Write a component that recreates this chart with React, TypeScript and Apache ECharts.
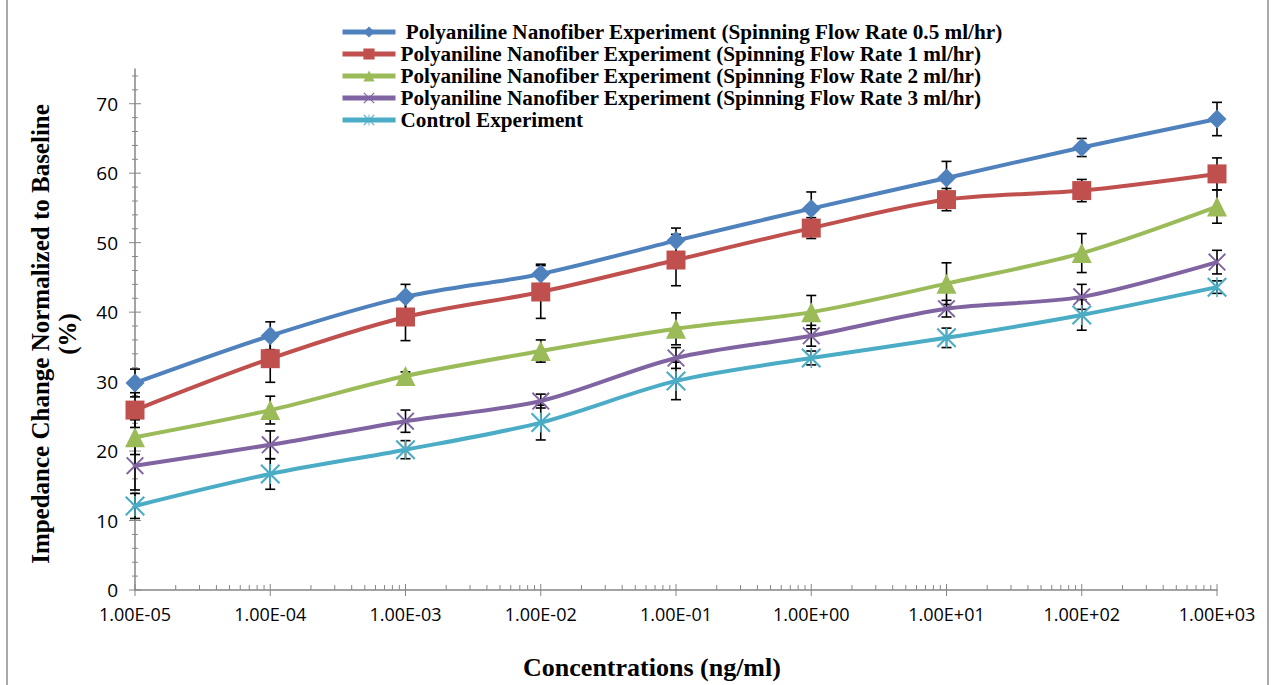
import React, { useEffect, useRef } from 'react';
import * as echarts from 'echarts';

const concentrations = [1e-5, 1e-4, 1e-3, 1e-2, 1e-1, 1e0, 1e1, 1e2, 1e3];
const xTickLabels = ['1.00E-05', '1.00E-04', '1.00E-03', '1.00E-02', '1.00E-01', '1.00E+00', '1.00E+01', '1.00E+02', '1.00E+03'];
const yMajorTicks = [0, 10, 20, 30, 40, 50, 60, 70];

const seriesNames = [
  ' Polyaniline Nanofiber Experiment (Spinning Flow Rate 0.5 ml/hr)',
  'Polyaniline Nanofiber Experiment (Spinning Flow Rate 1 ml/hr)',
  'Polyaniline Nanofiber Experiment (Spinning Flow Rate 2 ml/hr)',
  'Polyaniline Nanofiber Experiment (Spinning Flow Rate 3 ml/hr)',
  'Control Experiment',
];
const colors = ['#4F81BD', '#C0504D', '#9BBB59', '#8064A2', '#4BACC6'];

const rate05 = [29.8, 36.6, 42.2, 45.5, 50.3, 54.9, 59.3, 63.7, 67.8];
const rate1 = [25.9, 33.3, 39.3, 42.9, 47.5, 52.1, 56.2, 57.5, 59.9];
const rate2 = [22.0, 25.9, 30.8, 34.4, 37.6, 40.0, 44.1, 48.5, 55.2];
const rate3 = [17.9, 20.9, 24.3, 27.2, 33.4, 36.6, 40.5, 42.2, 47.2];
const control = [12.1, 16.7, 20.2, 24.1, 30.1, 33.4, 36.3, 39.6, 43.6];

const err05 = [2.0, 2.0, 1.8, 1.4, 1.8, 2.4, 2.4, 1.3, 2.4];
const err1 = [2.5, 3.4, 3.4, 3.8, 3.7, 1.5, 1.6, 1.6, 2.3];
const err2 = [2.5, 2.0, 0.6, 1.6, 2.3, 2.4, 3.0, 2.8, 2.4];
const err3 = [3.5, 2.0, 1.6, 1.0, 1.5, 1.5, 1.2, 1.8, 1.7];
const errControl = [1.8, 2.2, 1.3, 2.5, 2.7, 1.0, 1.4, 2.2, 0.9];

const values = [rate05, rate1, rate2, rate3, control];
const errors = [err05, err1, err2, err3, errControl];

const X_PATH = 'path://M0,1.5 L1.5,0 L20,18.5 L18.5,20 Z M1.5,20 L0,18.5 L18.5,0 L20,1.5 Z';
const STAR_PATH = 'path://M0,1.5 L1.5,0 L20,18.5 L18.5,20 Z M1.5,20 L0,18.5 L18.5,0 L20,1.5 Z M9.25,0 L10.75,0 L10.75,20 L9.25,20 Z';
const symbols = ['diamond', 'rect', 'triangle', X_PATH, STAR_PATH];
const symbolSizes = [19, 19, 20, 18, 20];

const AXIS_GRAY = '#868686';

export default function App() {
  const ref = useRef<HTMLDivElement>(null);
  useEffect(() => {
    if (!ref.current) return;
    const chart = echarts.init(ref.current, undefined, { renderer: 'svg' });

    const xTickData: number[][] = [];
    concentrations.forEach((c, i) => {
      xTickData.push([c, 1]);
      if (i < concentrations.length - 1) {
        for (let m = 2; m <= 9; m++) xTickData.push([c * m, 0]);
      }
    });
    const yTickData: number[][] = [];
    for (let v = 0; v <= 74; v += 2) yTickData.push([v, v % 10 === 0 ? 1 : 0]);

    const lineSeries = seriesNames.map((name, s) => ({
      name,
      type: 'line',
      smooth: 0.3,
      data: concentrations.map((c, i) => [c, values[s][i]]),
      symbol: symbols[s],
      symbolSize: symbolSizes[s],
      lineStyle: { color: colors[s], width: 4 },
      itemStyle: { color: colors[s] },
      z: 3,
    }));

    const errorSeries = seriesNames.map((name, s) => ({
      type: 'custom',
      name: 'err' + s,
      data: concentrations.map((c, i) => [c, values[s][i], errors[s][i]]),
      encode: { x: 0, y: 1 },
      z: 2,
      silent: true,
      renderItem: (params: any, api: any) => {
        const x = api.value(0);
        const y = api.value(1);
        const e = api.value(2);
        const top = api.coord([x, y + e]);
        const bot = api.coord([x, y - e]);
        const hw = 5;
        const st = { stroke: '#000', lineWidth: 1.6 };
        return {
          type: 'group',
          children: [
            { type: 'line', shape: { x1: top[0], y1: top[1], x2: bot[0], y2: bot[1] }, style: st },
            { type: 'line', shape: { x1: top[0] - hw, y1: top[1], x2: top[0] + hw, y2: top[1] }, style: st },
            { type: 'line', shape: { x1: bot[0] - hw, y1: bot[1], x2: bot[0] + hw, y2: bot[1] }, style: st },
          ],
        };
      },
    }));

    const xTickSeries = {
      type: 'custom',
      name: 'xticks',
      data: xTickData,
      encode: { x: 0 },
      silent: true,
      clip: false,
      z: 1,
      renderItem: (params: any, api: any) => {
        const p = api.coord([api.value(0), 0]);
        const major = api.value(1) === 1;
        return {
          type: 'line',
          shape: { x1: p[0], y1: major ? p[1] - 6 : p[1] - 5, x2: p[0], y2: major ? p[1] + 6 : p[1] },
          style: { stroke: AXIS_GRAY, lineWidth: 1 },
        };
      },
    };

    const yTickSeries = {
      type: 'custom',
      name: 'yticks',
      data: yTickData.map((d) => [1e-5, d[0], d[1]]),
      encode: { x: 0, y: 1 },
      silent: true,
      clip: false,
      z: 1,
      renderItem: (params: any, api: any) => {
        const p = api.coord([1e-5, api.value(1)]);
        const major = api.value(2) === 1;
        return {
          type: 'line',
          shape: { x1: major ? p[0] - 6 : p[0] - 3, y1: p[1], x2: major ? p[0] + 6 : p[0] + 3, y2: p[1] },
          style: { stroke: AXIS_GRAY, lineWidth: 1 },
        };
      },
    };

    chart.setOption({
      animation: false,
      backgroundColor: '#fff',
      grid: { left: 135, right: 59, top: 69, bottom: 95, containLabel: false },
      legend: {
        data: seriesNames,
        orient: 'vertical',
        left: 340,
        top: 21,
        padding: 0,
        itemWidth: 53,
        itemHeight: 14,
        itemGap: 0,
        lineStyle: { width: 5 },
        textStyle: {
          fontFamily: 'Liberation Serif',
          fontWeight: 'bold',
          fontSize: 21.2,
          color: '#000',
          lineHeight: 22,
        },
      },
      xAxis: {
        type: 'log',
        logBase: 10,
        min: 1e-5,
        max: 1e3,
        axisLine: { lineStyle: { color: AXIS_GRAY, width: 1.5 } },
        axisTick: { show: false },
        splitLine: { show: false },
        axisLabel: {
          margin: 15,
          fontFamily: 'Open Sans',
          fontSize: 18,
          color: '#000',
          formatter: (v: number) => {
            const idx = concentrations.findIndex((c) => Math.abs(Math.log10(c) - Math.log10(v)) < 1e-6);
            return idx >= 0 ? xTickLabels[idx] : '';
          },
        },
      },
      yAxis: {
        type: 'value',
        min: 0,
        max: 75,
        interval: 10,
        axisLine: { show: true, lineStyle: { color: AXIS_GRAY, width: 1.5 } },
        axisTick: { show: false },
        splitLine: { show: false },
        axisLabel: {
          margin: 17,
          fontFamily: 'Open Sans',
          fontSize: 19,
          color: '#000',
          showMaxLabel: false,
          formatter: (v: number) => (yMajorTicks.includes(v) ? String(v) : ''),
        },
      },
      graphic: [
        {
          type: 'text',
          x: 652,
          y: 667,
          style: {
            text: 'Concentrations (ng/ml)',
            font: 'bold 26px "Liberation Serif"',
            fill: '#000',
            textAlign: 'center',
            textVerticalAlign: 'middle',
          },
        },
        {
          type: 'text',
          x: 54,
          y: 334,
          rotation: Math.PI / 2,
          style: {
            text: 'Impedance Change Normalized to Baseline\n(%)',
            font: 'bold 25px "Liberation Serif"',
            lineHeight: 27,
            fill: '#000',
            textAlign: 'center',
            textVerticalAlign: 'middle',
          },
        },
        { type: 'line', shape: { x1: 7, y1: 0, x2: 7, y2: 685 }, style: { stroke: '#8c8c8c', lineWidth: 1.5 } },
        { type: 'line', shape: { x1: 1268, y1: 0, x2: 1268, y2: 685 }, style: { stroke: '#8c8c8c', lineWidth: 1.5 } },
      ],
      series: [xTickSeries, yTickSeries, ...errorSeries, ...lineSeries],
    } as any);

    return () => chart.dispose();
  }, []);

  return <div ref={ref} style={{ position: 'fixed', left: 0, top: 0, width: 1276, height: 685 }} />;
}
